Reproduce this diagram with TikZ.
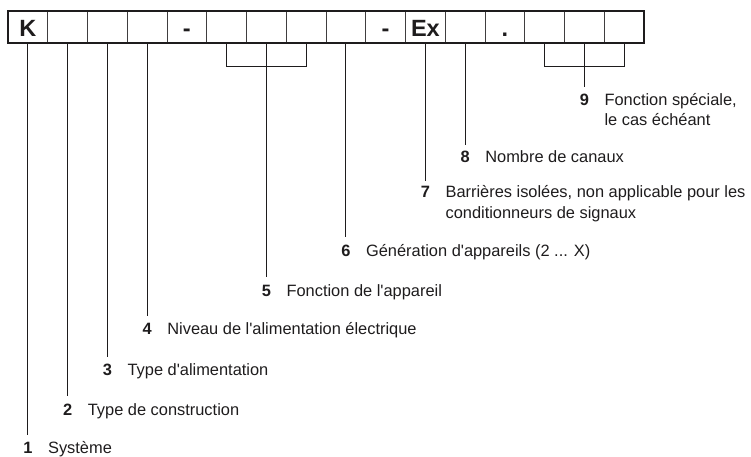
\documentclass[tikz,border=0pt]{standalone}
\usepackage{fontspec}
\setmainfont{Liberation Sans}[Ligatures=TeXOff]
\definecolor{ink}{HTML}{1E1C1D}
\begin{document}
\begin{tikzpicture}[x=1pt,y=-1pt,
  cell/.style={draw=ink!85, line width=0.9pt, minimum width=39.75pt,
    minimum height=32.5pt, inner sep=0pt, outer sep=0pt, anchor=north west},
  celltext/.style={anchor=base, inner sep=0pt, text=ink,
    font=\fontsize{23.5}{23.5}\selectfont\bfseries},
  lead/.style={draw=ink, line width=1.15pt},
  num/.style={anchor=base, inner sep=0pt, text=ink,
    font=\fontsize{16.4}{20}\selectfont\bfseries},
  desc/.style={anchor=base west, inner sep=0pt, text=ink,
    font=\fontsize{16.4}{20}\selectfont},
]
\useasboundingbox (0,0) rectangle (751,456);

% the sixteen positions of the type code
\foreach \t [count=\i from 0] in {K,{},{},{},-,{},{},{},{},-,Ex,{},.,{},{},{}} {
  \node[cell] (c\i) at (8+39.75*\i,10.5) {};
  \node[celltext] (k\i) at ([yshift=6.5pt]c\i.south) {\t};
}
\draw[ink, line width=2pt] (c0.north west) rectangle (c15.south east);

% end points of the leaders
\coordinate (e1) at (c0.south |- 0,435);
\coordinate (e2) at (c1.south |- 0,396);
\coordinate (e3) at (c2.south |- 0,356.5);
\coordinate (e4) at (c3.south |- 0,316);
\coordinate (e5) at (c6.south |- 0,277);
\coordinate (e6) at (c8.south |- 0,237);
\coordinate (e7) at (c10.south |- 0,181);
\coordinate (e8) at (c11.south |- 0,145);
\coordinate (e9) at (c14.south |- 0,87);

% single leaders
\draw[lead] (c0.south) -- (e1);
\draw[lead] (c1.south) -- (e2);
\draw[lead] (c2.south) -- (e3);
\draw[lead] (c3.south) -- (e4);
\draw[lead] (c8.south) -- (e6);
\draw[lead] (c10.south) -- (e7);
\draw[lead] (c11.south) -- (e8);

% bracketed groups
\draw[lead] (c5.south) -- (c5.south |- 0,66.7) -| (c7.south);
\draw[lead] (c6.south) -- (e5);
\draw[lead] (c13.south) -- (c13.south |- 0,66.7) -| (c15.south);
\draw[lead] (c14.south) -- (e9);

% numbered descriptions
\node[num] (n1) at (c0.south |- 0,453.5) {1};
\node[desc] (t1) at ([xshift=20pt]n1.base) {Système};
\node[num] (n2) at (c1.south |- 0,415) {2};
\node[desc] (t2) at ([xshift=20pt]n2.base) {Type de construction};
\node[num] (n3) at (c2.south |- 0,375) {3};
\node[desc] (t3) at ([xshift=20pt]n3.base) {Type d'alimentation};
\node[num] (n4) at (c3.south |- 0,334) {4};
\node[desc] (t4) at ([xshift=20pt]n4.base) {Niveau de l'alimentation électrique};
\node[num] (n5) at (c6.south |- 0,296.5) {5};
\node[desc] (t5) at ([xshift=20pt]n5.base) {Fonction de l'appareil};
\node[num] (n6) at (c8.south |- 0,256) {6};
\node[desc] (t6) at ([xshift=20pt]n6.base) {Génération d'appareils (2 ... X)};
\node[num] (n7) at (c10.south |- 0,197) {7};
\node[desc] (t7) at ([xshift=20pt]n7.base) {Barrières isolées, non applicable pour les};
\node[desc] (t7b) at ([yshift=-21pt]t7.base west) {conditionneurs de signaux};
\node[num] (n8) at (c11.south |- 0,162) {8};
\node[desc] (t8) at ([xshift=20pt]n8.base) {Nombre de canaux};
\node[num] (n9) at (c14.south |- 0,105) {9};
\node[desc] (t9) at ([xshift=20pt]n9.base) {Fonction spéciale,};
\node[desc] (t9b) at ([yshift=-20pt]t9.base west) {le cas échéant};
\end{tikzpicture}
\end{document}
